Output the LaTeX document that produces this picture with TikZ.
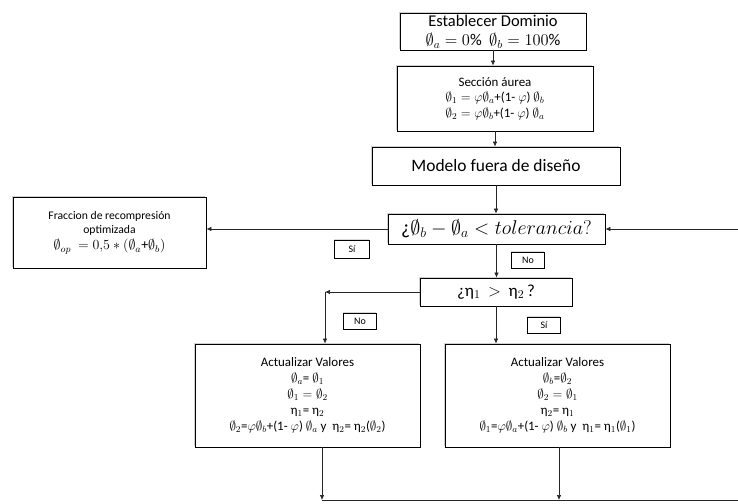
\RequirePackage{fix-cm}
\documentclass[tikz,border=0pt]{standalone}
\usepackage{amsmath}
\usepackage{fontspec}
\setmainfont{Carlito}
\usepackage{tikz}
\usetikzlibrary{arrows.meta, positioning, calc, shadows}

\begin{document}
\begin{tikzpicture}[x=1bp, y=-1bp,
  caja/.style={draw=black, line width=0.8pt, fill=white, align=center, inner sep=1pt,
    general shadow={fill=black!18, shadow xshift=-1.5pt, shadow yshift=1pt}},
  etiqueta/.style={draw=black, line width=0.8pt, fill=white, inner sep=0pt,
    minimum width=33bp, minimum height=16bp, font=\fontsize{10}{11}\selectfont,
    general shadow={fill=black!15, shadow xshift=-1pt, shadow yshift=1pt}},
  flecha/.style={-{Latex[length=5pt,width=4.5pt]}, line width=0.7pt, draw=black!85}]
\useasboundingbox (0,0) rectangle (738,504);

% Main column
\node[caja, minimum width=186bp, minimum height=37bp, font=\fontsize{16.5}{20}\selectfont] (dominio) at (493,31.5)
  {Establecer Dominio\\$\emptyset_a = 0\%\ \ \emptyset_b = 100\%$};
\node[caja, minimum width=196bp, minimum height=65bp, font=\fontsize{13}{15.5}\selectfont] (aurea) at (495,98.5)
  {Sección áurea\\$\emptyset_1 = \varphi\emptyset_a$+(1- $\varphi$) $\emptyset_b$\\$\emptyset_2 = \varphi\emptyset_b$+(1- $\varphi$) $\emptyset_a$};
\node[caja, minimum width=248bp, minimum height=38bp, font=\fontsize{17.5}{19}\selectfont] (modelo) at (496,166)
  {Modelo fuera de diseño};
\node[caja, minimum width=217bp, minimum height=30bp, font=\fontsize{20}{22}\selectfont] (tol) at (496.5,229)
  {¿$\emptyset_b - \emptyset_a < tolerancia?$};
\node[caja, minimum width=152bp, minimum height=28bp, font=\fontsize{17}{19}\selectfont] (eta) at (496,292)
  {¿η$_1$ \ $>$ \ η$_2$\,?};

% Result on the left
\node[caja, minimum width=193bp, minimum height=71bp, font=\fontsize{11.7}{14}\selectfont] (fracc) at (109.5,232.5)
  {Fraccion de recompresión\\optimizada\\[3pt]{\fontsize{14}{15}\selectfont$\emptyset_{op}\ = 0{,}5 * (\emptyset_a$+$\emptyset_b)$}};

% Update boxes
\node[caja, minimum width=225bp, minimum height=103bp, font=\fontsize{13}{16}\selectfont] (actA) at (307.5,395.5)
  {Actualizar Valores\\$\emptyset_a$= $\emptyset_1$\\$\emptyset_1 = \emptyset_2$\\η$_1$= η$_2$\\$\emptyset_2$=$\varphi\emptyset_b$+(1- $\varphi$) $\emptyset_a$ y \ η$_2$= η$_2$($\emptyset_2$)};
\node[caja, minimum width=225bp, minimum height=103bp, font=\fontsize{13}{16}\selectfont] (actB) at (557.5,395.5)
  {Actualizar Valores\\$\emptyset_b$=$\emptyset_2$\\$\emptyset_2 = \emptyset_1$\\η$_2$= η$_1$\\$\emptyset_1$=$\varphi\emptyset_a$+(1- $\varphi$) $\emptyset_b$ y \ η$_1$= η$_1$($\emptyset_1$)};

% Labels
\node[etiqueta, minimum width=35bp, minimum height=18bp] (si1) at (352,249) {Sí};
\node[etiqueta] (no1) at (528,260) {No};
\node[etiqueta] (no2) at (360,321) {No};
\node[etiqueta] (si2) at (544,325) {Sí};

% Free ends
\coordinate (entrada) at (738,229);
\coordinate (codo) at (325,292);
\coordinate (izq) at (322,500);
\coordinate (der) at (559,500);
\coordinate (fin) at (738,500);

% Connectors
\draw[flecha] (dominio.south) -- (dominio.south |- aurea.north);
\draw[flecha] (aurea.south) -- (aurea.south |- modelo.north);
\draw[flecha] (modelo.south) -- (modelo.south |- tol.north);
\draw[flecha] (tol.west) -- (tol.west -| fracc.east);
\draw[flecha] (entrada) -- (tol.east);
\draw[flecha] (tol.south) -- (tol.south |- eta.north);
\draw[flecha] (eta.west) -- (codo);
\draw[flecha] (codo) -- (codo |- actA.north);
\draw[flecha] (eta.south) -- (eta.south |- actB.north);
\draw[flecha] (actA.south -| izq) -- (izq);
\draw[flecha] (actB.south -| der) -- (der);
\draw[line width=0.7pt, black!85] (izq) -- (fin);

\end{tikzpicture}
\end{document}
